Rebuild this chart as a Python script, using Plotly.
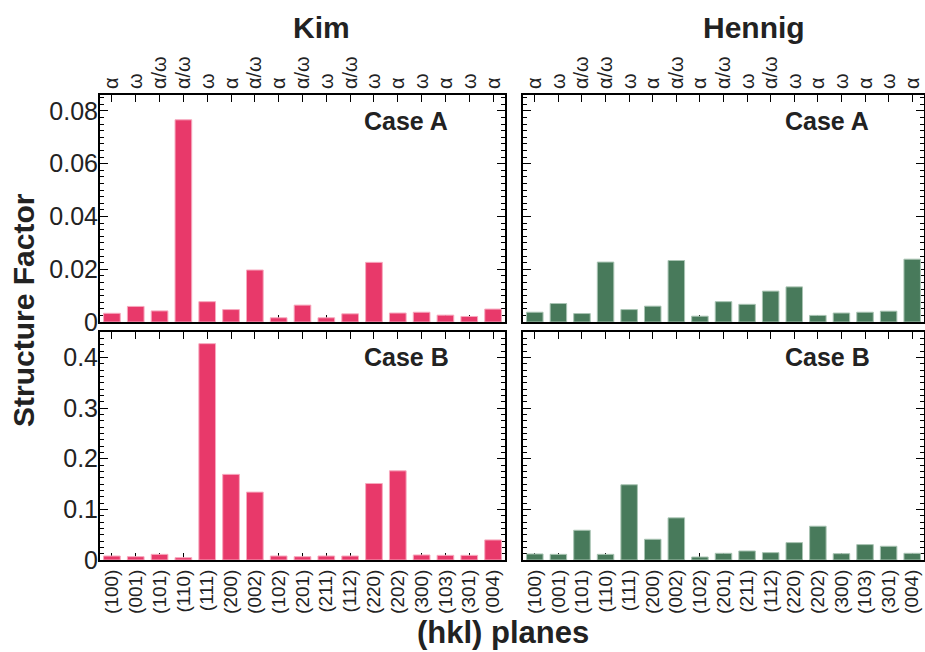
import plotly.graph_objects as go
from plotly.subplots import make_subplots

# ---------------- data ----------------
planes = ["(100)", "(001)", "(101)", "(110)", "(111)", "(200)", "(002)", "(102)", "(201)",
          "(211)", "(112)", "(220)", "(202)", "(300)", "(103)", "(301)", "(004)"]
phases = ["α", "ω", "α/ω", "α/ω", "ω", "α", "α/ω", "α", "α/ω",
          "ω", "α/ω", "ω", "α", "ω", "α", "ω", "α"]

kim_case_a = [0.0033, 0.0059, 0.0042, 0.0766, 0.0077, 0.0047, 0.0197, 0.0016, 0.0064,
              0.0016, 0.0031, 0.0226, 0.0034, 0.0037, 0.0026, 0.0021, 0.0049]
hennig_case_a = [0.0037, 0.0070, 0.0032, 0.0227, 0.0047, 0.0060, 0.0233, 0.0022, 0.0077,
                 0.0067, 0.0117, 0.0133, 0.0025, 0.0034, 0.0037, 0.0041, 0.0238]
kim_case_b = [0.0079, 0.0066, 0.0112, 0.0046, 0.427, 0.169, 0.134, 0.0079, 0.0066,
              0.0079, 0.0079, 0.151, 0.176, 0.0099, 0.0092, 0.0092, 0.0396]
hennig_case_b = [0.0119, 0.0112, 0.0587, 0.0112, 0.1485, 0.0409, 0.0832, 0.0059, 0.0132,
                 0.0178, 0.0145, 0.0343, 0.0667, 0.0125, 0.0304, 0.0271, 0.0132]

ystep_a = 0.02
ystep_b = 0.1

# ---------------- style ----------------
W, H = 925, 652
KIM_COLOR = "#E8396A"
KIM_EDGE = "#F7A9BE"
HEN_COLOR = "#487A5B"
HEN_EDGE = "#A9C4B3"
TXT = "#222222"
FONT = "Liberation Sans, Arial, Helvetica, sans-serif"


def px(x):
    return x / W


def py(y):
    return 1 - y / H


fig = make_subplots(rows=2, cols=2)

panels = [
    (1, 1, kim_case_a, KIM_COLOR, KIM_EDGE),
    (1, 2, hennig_case_a, HEN_COLOR, HEN_EDGE),
    (2, 1, kim_case_b, KIM_COLOR, KIM_EDGE),
    (2, 2, hennig_case_b, HEN_COLOR, HEN_EDGE),
]
for r, c, vals, col, edge in panels:
    fig.add_trace(
        go.Bar(x=planes, y=vals, width=0.7,
               marker=dict(color=col, line=dict(color=edge, width=1)),
               showlegend=False, hoverinfo="x+y"),
        row=r, col=c)

xdom = {1: [px(100), px(505)], 2: [px(523), px(924)]}
ydom = {1: [py(322), py(95)], 2: [py(560), py(332)]}

common_x = dict(type="category", range=[-0.5, 16.5], showline=True, linewidth=2,
                linecolor="black", mirror="ticks", ticks="inside", ticklen=7,
                tickwidth=1.2, tickcolor="black", showgrid=False, zeroline=False,
                tickangle=-90, tickvals=planes, layer="below traces",
                automargin=False)
common_y = dict(showline=True, linewidth=2, linecolor="black", mirror="ticks",
                ticks="inside", ticklen=8, tickwidth=1.2, tickcolor="black",
                showgrid=False, zeroline=False, layer="below traces",
                tickmode="linear", tick0=0, ticklabelstandoff=-5, automargin=False,
                tickfont=dict(size=25, color=TXT, family=FONT))

for r in (1, 2):
    for c in (1, 2):
        xa = dict(common_x)
        xa["domain"] = xdom[c]
        if r == 1:
            xa["side"] = "top"
            xa["ticktext"] = phases
            xa["tickfont"] = dict(size=20, color=TXT, family=FONT)
        else:
            xa["side"] = "bottom"
            xa["ticktext"] = planes
            xa["tickfont"] = dict(size=19, color=TXT, family=FONT)
        fig.update_xaxes(**xa, row=r, col=c)

        ya = dict(common_y)
        ya["domain"] = ydom[r]
        if r == 1:
            ya.update(range=[0, 0.086], dtick=ystep_a,
                      minor=dict(ticks="inside", dtick=ystep_a / 8, ticklen=4,
                                 tickwidth=1, tickcolor="black", showgrid=False))
        else:
            ya.update(range=[0, 0.45], dtick=ystep_b,
                      minor=dict(ticks="inside", dtick=ystep_b / 8, ticklen=4,
                                 tickwidth=1, tickcolor="black", showgrid=False))
        ya["showticklabels"] = (c == 1)
        fig.update_yaxes(**ya, row=r, col=c)

annotations = [
    dict(text="<b>Kim</b>", x=px(321), y=py(28), size=30),
    dict(text="<b>Hennig</b>", x=px(754), y=py(28), size=30),
    dict(text="<b>Case A</b>", x=px(406), y=py(121), size=25),
    dict(text="<b>Case A</b>", x=px(827), y=py(121), size=25),
    dict(text="<b>Case B</b>", x=px(406), y=py(357), size=25),
    dict(text="<b>Case B</b>", x=px(827), y=py(357), size=25),
    dict(text="<b>(hkl) planes</b>", x=px(503), y=py(632), size=31),
]
ann_objs = []
for a in annotations:
    ann_objs.append(dict(text=a["text"], x=a["x"], y=a["y"], xref="paper", yref="paper",
                         xanchor="center", yanchor="middle", showarrow=False,
                         borderpad=0,
                         font=dict(size=a["size"], color=TXT, family=FONT)))
ann_objs.append(dict(text="<b>Structure Factor</b>", x=px(24), y=py(310), xref="paper",
                     yref="paper", xanchor="center", yanchor="middle", showarrow=False,
                     textangle=-90, font=dict(size=30, color=TXT, family=FONT)))

fig.update_layout(
    width=W, height=H, autosize=False,
    margin=dict(l=0, r=0, t=0, b=0, pad=0, autoexpand=False),
    paper_bgcolor="white", plot_bgcolor="white",
    annotations=ann_objs,
    font=dict(family=FONT, color=TXT),
)

fig.write_html("out.html", config={"displayModeBar": False},
               post_script="document.body.style.margin='0px';document.body.style.overflow='hidden';")
